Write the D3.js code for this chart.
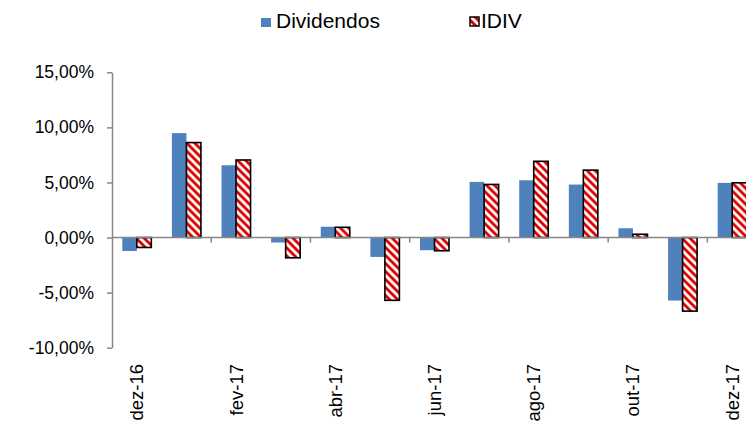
<!DOCTYPE html>
<html lang="pt">
<head>
    <meta charset="utf-8">
    <title>Dividendos x IDIV</title>
    <script src="https://d3js.org/d3.v7.min.js"></script>
    <style>
        body { margin: 0; background: #fff; }
        svg { display: block; font-family: "Liberation Sans", Arial, sans-serif; }
    </style>
</head>
<body>
<svg id="chart"></svg>
<script>
    // monthly values (fractions)
    const months = ["dez-16", "jan-17", "fev-17", "mar-17", "abr-17", "mai-17", "jun-17",
                    "jul-17", "ago-17", "set-17", "out-17", "nov-17", "dez-17"];
    const dividendos = [-0.0122, 0.0948, 0.0656, -0.0045, 0.0098, -0.0176, -0.0115,
                        0.0505, 0.0520, 0.0481, 0.0084, -0.0572, 0.0496];
    const idiv = [-0.0090, 0.0862, 0.0704, -0.0184, 0.0093, -0.0570, -0.0120,
                  0.0482, 0.0692, 0.0612, 0.0030, -0.0668, 0.0497];
    const seriesNames = ["Dividendos", "IDIV"];
    const yTicks = [-0.10, -0.05, 0, 0.05, 0.10, 0.15];

    const width = 746, height = 423;
    const plot = {left: 112, right: 757, top: 72.3, bottom: 347.7};

    const svg = d3.select("#chart")
        .attr("width", width)
        .attr("height", height);

    // pattern for IDIV: red / white downward diagonal
    const defs = svg.append("defs");
    const pat = defs.append("pattern")
        .attr("id", "hatch")
        .attr("patternUnits", "userSpaceOnUse")
        .attr("width", 8).attr("height", 8);
    pat.append("rect").attr("width", 8).attr("height", 8).attr("fill", "#fff");
    pat.append("path")
        .attr("d", "M0,0L4,0L8,4L8,8ZM0,4L4,8L0,8Z")
        .attr("fill", "#e00000");

    const locale = d3.formatLocale({decimal: ",", thousands: ".", grouping: [3], currency: ["R$", ""], minus: "-"});
    const fmt = locale.format(".2%");

    const x0 = d3.scaleBand()
        .domain(months)
        .range([plot.left, plot.right])
        .padding(0);
    const x1 = d3.scaleBand()
        .domain(seriesNames)
        .range([0, x0.bandwidth()])
        .paddingInner(0)
        .paddingOuter(0.71);
    const y = d3.scaleLinear()
        .domain([-0.10, 0.15])
        .range([plot.bottom, plot.top]);

    const rows = months.map((m, i) => ({month: m, Dividendos: dividendos[i], IDIV: idiv[i]}));

    // bars
    const groups = svg.append("g").attr("id", "bars")
        .selectAll("g")
        .data(rows)
        .join("g")
        .attr("transform", d => `translate(${x0(d.month)},0)`);

    groups.append("rect")
        .attr("x", x1("Dividendos"))
        .attr("width", x1.bandwidth())
        .attr("y", d => y(Math.max(0, d.Dividendos)))
        .attr("height", d => Math.abs(y(d.Dividendos) - y(0)))
        .attr("fill", "#4f81bd");

    // y axis
    const yAxis = svg.append("g")
        .attr("transform", `translate(${plot.left},0)`)
        .call(d3.axisLeft(y).tickValues(yTicks).tickFormat(fmt).tickSize(5).tickSizeOuter(0).tickPadding(13));
    yAxis.select(".domain").attr("stroke", "#868686").attr("stroke-width", 1.5);
    yAxis.selectAll(".tick line").attr("stroke", "#868686").attr("stroke-width", 1.5);
    yAxis.selectAll(".tick text")
        .attr("font-size", 17.5)
        .attr("fill", "#000")
        .attr("font-family", "Liberation Sans, Arial, sans-serif");

    // zero line with tick marks every two months
    const xAxis = svg.append("g").attr("id", "xaxis");
    xAxis.append("line")
        .attr("x1", plot.left).attr("x2", plot.right)
        .attr("y1", y(0)).attr("y2", y(0))
        .attr("stroke", "#868686").attr("stroke-width", 1.5);
    xAxis.selectAll("line.tk")
        .data(months.filter((m, i) => i > 0 && i % 2 === 0))
        .join("line")
        .attr("class", "tk")
        .attr("x1", d => x0(d)).attr("x2", d => x0(d))
        .attr("y1", y(0)).attr("y2", y(0) + 5)
        .attr("stroke", "#868686").attr("stroke-width", 1.5);

    // IDIV bars drawn over the zero line
    groups.append("rect")
        .attr("x", x1("IDIV"))
        .attr("width", x1.bandwidth())
        .attr("y", d => y(Math.max(0, d.IDIV)))
        .attr("height", d => Math.abs(y(d.IDIV) - y(0)))
        .attr("fill", "url(#hatch)")
        .attr("stroke", "#000")
        .attr("stroke-width", 1.6);

    // category labels, every other month
    svg.append("g").attr("id", "xlabels")
        .selectAll("text")
        .data(months.filter((m, i) => i % 2 === 0))
        .join("text")
        .attr("transform", d => `translate(${x0(d) + x0.bandwidth() / 2},364) rotate(-90)`)
        .attr("text-anchor", "end")
        .attr("dy", "0.35em")
        .attr("font-size", 18.5)
        .attr("fill", "#000")
        .text(d => d);

    // legend
    const legend = svg.append("g").attr("id", "legend");
    legend.append("rect")
        .attr("x", 261).attr("y", 18).attr("width", 10).attr("height", 9)
        .attr("fill", "#4f81bd");
    legend.append("text")
        .attr("x", 276).attr("y", 28.3)
        .attr("font-size", 21)
        .text(seriesNames[0]);
    legend.append("rect")
        .attr("x", 470).attr("y", 17).attr("width", 9).attr("height", 9)
        .attr("fill", "url(#hatch)")
        .attr("stroke", "#000").attr("stroke-width", 1.5);
    legend.append("text")
        .attr("x", 481).attr("y", 28.3)
        .attr("font-size", 21)
        .text(seriesNames[1]);
</script>
</body>
</html>
